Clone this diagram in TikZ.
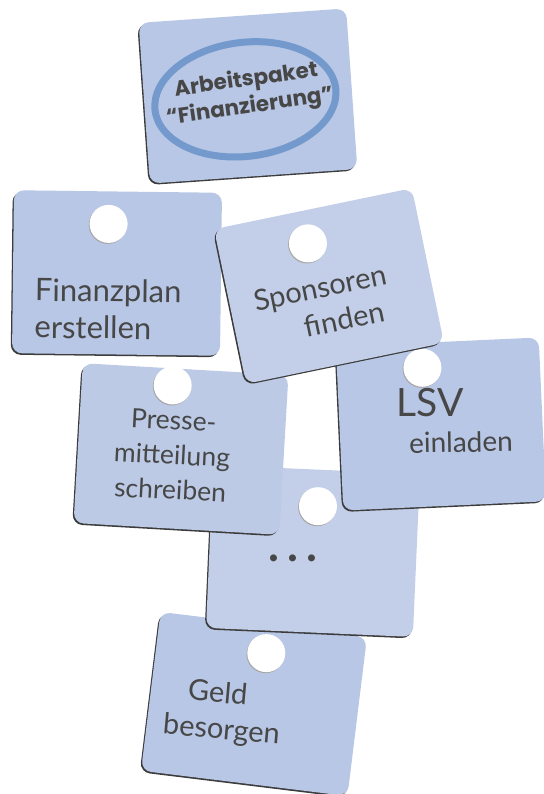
\documentclass[tikz,border=0pt]{standalone}
\usepackage{fontspec}
\setmainfont{Lato}
\newfontfamily\titlefont{Poppins}

\definecolor{cardblue}{HTML}{B8C7E5}
\definecolor{cardlight}{HTML}{C3CFE8}
\definecolor{cardmid}{HTML}{BCCAE6}
\definecolor{penblue}{HTML}{7399CD}
\definecolor{ink}{HTML}{474747}
\definecolor{cardedge}{HTML}{3C3C3C}

\tikzset{
  card/.style={rectangle,rounded corners=10pt,minimum width=206pt,minimum height=162pt,
    transform shape,preaction={fill=cardedge,transform canvas={shift={(-1.3pt,-1.5pt)}}}},
  hole/.style={circle,minimum size=38pt,inner sep=0pt,fill=white,
    preaction={fill=gray!70,transform canvas={shift={(-0.8pt,-1pt)}}}},
  hand/.style={text=ink,font=\fontsize{29}{36}\selectfont,align=center,inner sep=0pt}
}

\begin{document}
\begin{tikzpicture}[x=1pt,y=-1pt]
    \useasboundingbox (0,0) rectangle (543,794);
    % the tags, from the bottom one upwards
    \foreach \nm/\x/\y/\a/\w/\h/\c/\hx/\hy in {
        geld/254/704/-7/208/160/cardblue/6/-52,
        dots/313/551/-2.5/207/163/cardlight/3/-45,
        presse/181/449/-3.3/206/160/cardmid/-12/-63,
        lsv/441/424/2.6/203/164/cardblue/-16/-57,
        finanz/117/273/-0.7/208/163/cardblue/-9/-49,
        sponsoren/329/286/11.7/202/158/cardlight/-12/-46}{
      \begin{scope}[shift={(\x,\y)},rotate=\a]
        \node[card,fill=\c,minimum width=\w pt,minimum height=\h pt] (\nm) at (0,0) {};
        \node[hole] (\nm-loch) at (\hx,\hy) {};
      \end{scope}
    }
    \node[card,fill=cardblue,minimum width=208pt,minimum height=161pt,rotate=4] (titel) at (248,96) {};
    \draw[penblue,line width=7pt,rotate around={7:(titel.center)}]
      ([shift={(-3,3)}]titel.center) ellipse [x radius=91pt,y radius=57pt];
    \node[text=ink,font=\titlefont\bfseries\fontsize{21.5}{27}\selectfont,align=center,rotate=8]
      (titel-text) at (248,94) {Arbeitspaket\\“Finanzierung”};

    % labels
    \node[hand,font=\fontsize{31}{37}\selectfont,align=left,rotate=-0.7] (finanz-text) at (108,309)
      {Finanzplan\\erstellen};
    \node[hand,rotate=11.7] (sponsoren-text) at (324,305) {Sponsoren\\\hspace*{34pt}finden};
    \node[hand,font=\fontsize{26.5}{35}\selectfont,rotate=-3] (presse-text) at (172,455)
      {Presse-\\mitteilung\\schreiben};
    \node[hand,font=\fontsize{39}{40}\selectfont] (lsv-a) at (430,403) {LSV};
    \node[hand,font=\fontsize{28}{32}\selectfont,rotate=1] (lsv-b) at (461,442) {einladen};
    \node[hand,font=\bfseries\fontsize{46}{46}\selectfont] (dots-text) at (293,558)
      {.\kern8pt.\kern8pt.};
    \node[hand,align=left,rotate=-5] (geld-text) at (223,713) {\hspace*{22pt}Geld\\besorgen};
\end{tikzpicture}
\end{document}
